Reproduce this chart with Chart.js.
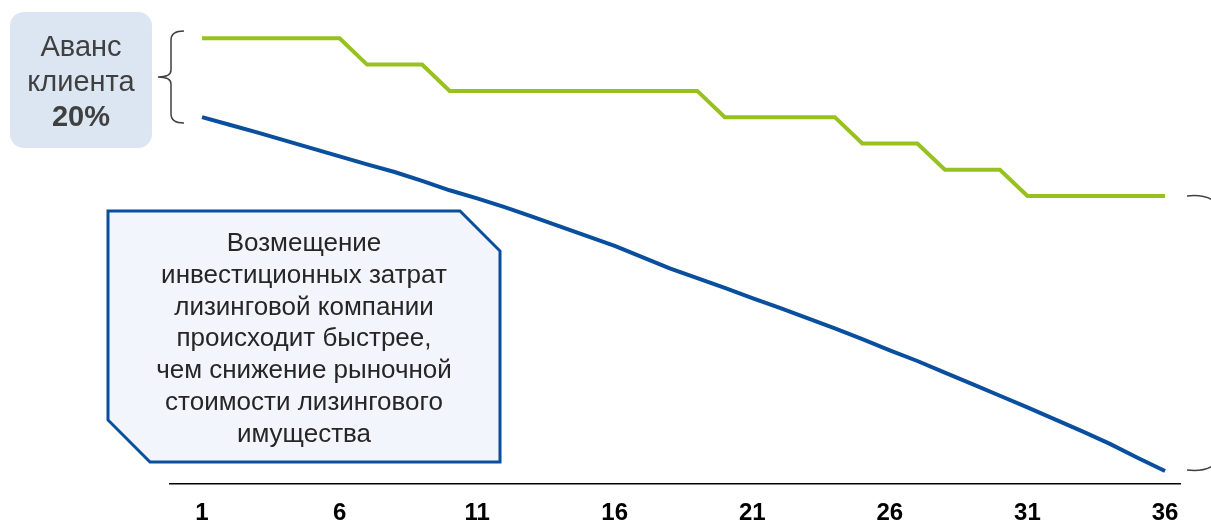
<!DOCTYPE html>
<html>
<head>
<meta charset="utf-8">
<script src="https://cdn.jsdelivr.net/npm/chart.js@4"></script>
<style>
  body { margin: 0; background: #fff; font-family: Arial, "Liberation Sans", Helvetica, sans-serif; }
  #wrap { position: relative; width: 1211px; height: 524px; }
  .note { position: absolute; text-align: center; color: #404040; }
  #avans { left: 10px; top: 29px; width: 142px; font-size: 29px; line-height: 35px; }
  #callout { left: 108px; top: 227px; width: 392px; font-size: 26px; line-height: 31.8px; color: #262626; }
</style>
</head>
<body>
<div id="wrap">
  <canvas id="chart"></canvas>
  <div class="note" id="avans">Аванс<br>клиента<br><b>20%</b></div>
  <div class="note" id="callout">Возмещение<br>инвестиционных затрат<br>лизинговой компании<br>происходит быстрее,<br>чем снижение рыночной<br>стоимости лизингового<br>имущества</div>
</div>
<script>
// months of the leasing term
const months = [];
for (let m = 1; m <= 36; m++) months.push(m);

const tickValues = [1, 6, 11, 16, 21, 26, 31, 36];

// market value of the leased property (green)
const marketValue = [
    100, 100, 100, 100, 100, 100,
    94.1, 94.1, 94.1,
    88.2, 88.2, 88.2, 88.2, 88.2, 88.2, 88.2, 88.2, 88.2, 88.2,
    82.3, 82.3, 82.3, 82.3, 82.3,
    76.4, 76.4, 76.4,
    70.5, 70.5, 70.5,
    64.6, 64.6, 64.6, 64.6, 64.6, 64.6
];

// leasing company's unrecovered investment (blue)
const investment = [
    82.3, 80.6, 78.9, 77.1, 75.3, 73.5, 71.7, 70.0, 68.0, 65.9,
    64.1, 62.1, 60.0, 57.8, 55.6, 53.4, 50.9, 48.4, 46.2, 44.0,
    41.7, 39.5, 37.2, 34.9, 32.5, 30.0, 27.6, 25.0, 22.4, 19.8,
    17.2, 14.5, 11.8, 9.0, 5.9, 2.9
];

const toPoints = (vals) => vals.map((v, i) => ({ x: months[i], y: v }));

const shapes = {
    id: 'shapes',
    beforeDatasetsDraw(chart) {
        const c = chart.ctx;
        c.save();
        // advance box
        c.fillStyle = '#dce6f2';
        c.beginPath();
        c.roundRect(10, 12, 142, 136, 14);
        c.fill();

        // left brace
        c.strokeStyle = '#404040';
        c.lineWidth = 1.5;
        c.beginPath();
        c.moveTo(184, 31);
        c.quadraticCurveTo(171, 31, 171, 40);
        c.lineTo(171, 70);
        c.quadraticCurveTo(171, 77, 158, 77);
        c.quadraticCurveTo(171, 77, 171, 84);
        c.lineTo(171, 114);
        c.quadraticCurveTo(171, 123, 184, 123);
        c.stroke();

        // right brace (cut by the edge)
        c.beginPath();
        c.moveTo(1187, 196);
        c.quadraticCurveTo(1204, 194, 1214, 201);
        c.moveTo(1187, 470);
        c.quadraticCurveTo(1204, 472, 1214, 465);
        c.stroke();

        // callout
        c.fillStyle = '#f2f5fb';
        c.strokeStyle = '#0a4f9e';
        c.lineWidth = 3;
        c.beginPath();
        c.moveTo(108, 211);
        c.lineTo(460, 211);
        c.lineTo(500, 251);
        c.lineTo(500, 462);
        c.lineTo(150, 462);
        c.lineTo(108, 420);
        c.closePath();
        c.fill();
        c.stroke();
        c.restore();
    }
};

new Chart(document.getElementById('chart'), {
    type: 'line',
    data: {
        datasets: [{
            data: toPoints(marketValue),
            borderColor: '#97c11f',
            borderWidth: 4,
            pointRadius: 0,
            tension: 0
        }, {
            data: toPoints(investment),
            borderColor: '#0a4f9e',
            borderWidth: 4,
            pointRadius: 0,
            tension: 0
        }]
    },
    options: {
        responsive: true,
        maintainAspectRatio: false,
        animation: false,
        layout: { padding: { left: 170, right: 31, top: 16, bottom: 0 } },
        plugins: { legend: { display: false }, tooltip: { enabled: false } },
        scales: {
            x: {
                type: 'linear',
                min: -0.163,
                max: 36.545,
                afterBuildTicks: (axis) => { axis.ticks = tickValues.map(v => ({ value: v })); },
                afterFit: (axis) => { axis.height = 40; },
                grid: { display: false, drawTicks: false },
                border: { display: true, color: '#000', width: 1.5 },
                ticks: {
                    padding: 15,
                    color: '#000',
                    font: { family: '"Liberation Sans Narrow", "Arial Narrow", Arial, sans-serif', size: 24, weight: 'bold' }
                }
            },
            y: {
                display: false,
                min: 0,
                max: 105
            }
        }
    },
    plugins: [shapes]
});
</script>
</body>
</html>
